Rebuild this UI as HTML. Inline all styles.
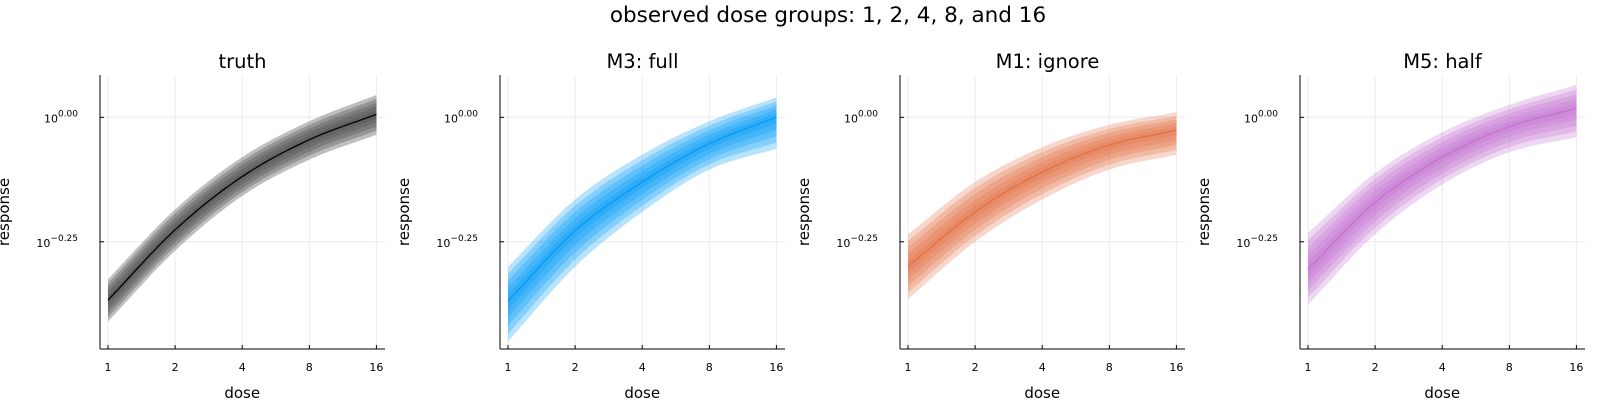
<!DOCTYPE html>
<html><head><meta charset="utf-8"><style>
body{margin:0;background:#fff;}
svg{display:block;font-family:"DejaVu Sans","Liberation Sans",sans-serif;}
</style></head><body>
<svg id="c" width="1600" height="400" viewBox="0 0 1600 400">
<text x="828" y="22" font-size="21.5" text-anchor="middle" fill="#000">observed dose groups: 1, 2, 4, 8, and 16</text>
</svg>
<script>
const doses=[1,2,4,8,16];
const yTicks=[0,-0.25];
const yTickLabels=["0.00","−0.25"];
const titles=["truth","M3: full","M1: ignore","M5: half"];
const colors=["#000000","#009af9","#e26f46","#c271d2"];
const truthMed=[-0.367,-0.226,-0.119,-0.045,0.006];
const truthLo=[-0.41,-0.268,-0.158,-0.085,-0.035];
const truthHi=[-0.325,-0.185,-0.08,-0.008,0.045];
const fullMed=[-0.369,-0.228,-0.130,-0.053,0.0];
const fullLo=[-0.45,-0.30,-0.19,-0.105,-0.063];
const fullHi=[-0.30,-0.165,-0.075,-0.008,0.04];
const ignMed=[-0.299,-0.19,-0.11,-0.056,-0.026];
const ignLo=[-0.365,-0.25,-0.165,-0.105,-0.075];
const ignHi=[-0.235,-0.13,-0.06,-0.015,0.01];
const halfMed=[-0.305,-0.171,-0.080,-0.019,0.018];
const halfLo=[-0.376,-0.235,-0.135,-0.07,-0.04];
const halfHi=[-0.232,-0.112,-0.03,0.025,0.065];
const meds=[truthMed,fullMed,ignMed,halfMed];
const los=[truthLo,fullLo,ignLo,halfLo];
const his=[truthHi,fullHi,ignHi,halfHi];

const svg=document.getElementById('c');
const NS='http://www.w3.org/2000/svg';
function mk(tag,attrs,parent){const e=document.createElementNS(NS,tag);for(const k in attrs)e.setAttribute(k,attrs[k]);(parent||svg).appendChild(e);return e;}
const PW=400,L0=100,R0=385,T=75,B=349;
function xs(p,d){return L0+p*PW+8+Math.log2(d)*67.1;}
function ys(v){return 117.3-v*498;}
function interp(arr,t){
  const i=Math.min(3,Math.floor(t)),u=t-i;
  const p1=arr[i],p2=arr[i+1];
  const p0=i>0?arr[i-1]:2*arr[0]-arr[1];
  const p3=i+2<=4?arr[i+2]:2*arr[4]-arr[3];
  return 0.5*((2*p1)+(-p0+p2)*u+(2*p0-5*p1+4*p2-p3)*u*u+(-p0+3*p1-3*p2+p3)*u*u*u);
}
for(let p=0;p<4;p++){
  const g=mk('g',{});
  
  
  const ox=p*PW;
  doses.forEach(d=>{const l=mk('line',{x1:xs(p,d),x2:xs(p,d),y1:T,y2:B,stroke:'#ececec','stroke-width':1},g);
    });
  yTicks.forEach(v=>{const l=mk('line',{x1:L0+ox,x2:R0+ox,y1:ys(v),y2:ys(v),stroke:'#ececec','stroke-width':1},g);
    });
  const med=meds[p],lo=los[p],hi=his[p];
  const levels=[1,0.8,0.6,0.4,0.2];
  levels.forEach(f=>{
    const top=[],bot=[];
    for(let k=0;k<=80;k++){const t=k/20;
      const m=interp(med,t),l=interp(lo,t),h=interp(hi,t);
      const x=xs(p,Math.pow(2,t));
      top.push(x.toFixed(1)+','+ys(m+(h-m)*f).toFixed(1));
      bot.unshift(x.toFixed(1)+','+ys(m+(l-m)*f).toFixed(1));}
    const poly=mk('polygon',{points:top.concat(bot).join(' '),fill:p===0?'#555':colors[p],'fill-opacity':p===0?0.38:0.28},g);
    
    
  });
  const pts=[];
  for(let k=0;k<=80;k++){const t=k/20;pts.push(xs(p,Math.pow(2,t)).toFixed(1)+','+ys(interp(med,t)).toFixed(1));}
  const ln=mk('polyline',{points:pts.join(' '),fill:'none',stroke:colors[p],'stroke-width':1.3},g);
  
  
  const ax=mk('line',{x1:L0+ox,x2:L0+ox,y1:T,y2:B,stroke:'#000','stroke-width':1},g);
  
  const bx=mk('line',{x1:L0+ox,x2:R0+ox,y1:B,y2:B,stroke:'#333','stroke-width':1.2},g);
  
  doses.forEach(d=>{
    mk('line',{x1:xs(p,d),x2:xs(p,d),y1:B,y2:B-4,stroke:'#000'},g);
    const t=mk('text',{x:xs(p,d),y:B+22,'font-size':11,'text-anchor':'middle',fill:'#000'},g);t.textContent=d;
    
  });
  yTicks.forEach((v,i)=>{
    mk('line',{x1:L0+ox,x2:L0+ox+4,y1:ys(v),y2:ys(v),stroke:'#000'},g);
    const t=mk('text',{x:L0+ox-22,y:ys(v)+5,'font-size':11,'text-anchor':'end',fill:'#000'},g);
    
    t.appendChild(document.createTextNode('10'));
    const s=mk('tspan',{dy:-6,'font-size':9},t);s.textContent=yTickLabels[i];
  });
  const tt=mk('text',{x:(L0+R0)/2+ox+(p===2?5:0),y:68,'font-size':19.5,'text-anchor':'middle',fill:'#000'},g);tt.textContent=titles[p];
  
  const xl=mk('text',{x:xs(p,4),y:398,'font-size':15,'text-anchor':'middle',fill:'#000'},g);xl.textContent='dose';
  
  const yl=mk('text',{x:0,y:0,'font-size':15,'text-anchor':'middle',fill:'#000',transform:'translate('+(9+ox)+',212) rotate(-90)'},g);yl.textContent='response';
  
}
</script>
</body></html>
